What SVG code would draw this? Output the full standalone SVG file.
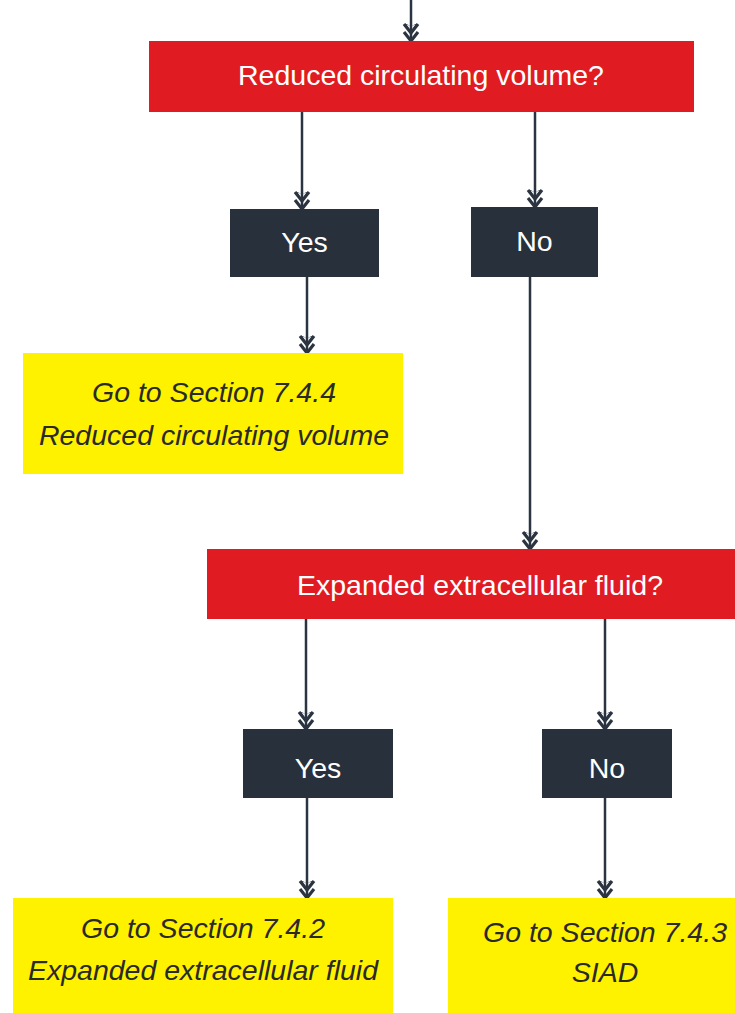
<svg xmlns="http://www.w3.org/2000/svg" width="735" height="1013" viewBox="0 0 735 1013">
  <style>
    .q { fill: #e11b22; }
    .a { fill: #28303c; }
    .g { fill: #fff200; }
    .qt, .at { font-family: "Liberation Sans", Arial, sans-serif; font-size: 28.5px; fill: #ffffff; text-anchor: middle; }
    .gt { font-family: "Liberation Sans", Arial, sans-serif; font-size: 28.5px; font-style: italic; fill: #2a2a2a; text-anchor: middle; }
    .edge { stroke: #2b3440; stroke-width: 2.5; fill: none; marker-end: url(#dbl); }
  </style>
  <defs>
    <!-- double chevron arrowhead, filled barbs -->
    <marker id="dbl" markerUnits="userSpaceOnUse" markerWidth="24" markerHeight="24" refX="0" refY="0" orient="auto" overflow="visible">
      <path d="M-17,-7 L-8,-1 L-17,5 L-15,0 Z M-17,7 L-8,1 L-17,-5 L-15,0 Z" fill="#2b3440"/>
      <path d="M-17,-7 L-8,0 L-17,7 M-9,-7 L0,0 L-9,7" stroke="#2b3440" stroke-width="3.2" fill="none"/>
    </marker>
  </defs>
  <rect width="735" height="1013" fill="#ffffff"/>

  <g id="connectors">
    <line class="edge" x1="411" y1="0" x2="411" y2="41"/>
    <line class="edge" x1="302" y1="112" x2="302" y2="209"/>
    <line class="edge" x1="535" y1="112" x2="535" y2="207"/>
    <line class="edge" x1="307" y1="277" x2="307" y2="353"/>
    <line class="edge" x1="530" y1="277" x2="530" y2="549"/>
    <line class="edge" x1="306" y1="619" x2="306" y2="729"/>
    <line class="edge" x1="605" y1="619" x2="605" y2="729"/>
    <line class="edge" x1="307" y1="798" x2="307" y2="898"/>
    <line class="edge" x1="605" y1="798" x2="605" y2="898"/>
  </g>

  <g id="q1">
    <rect class="q" x="149" y="41" width="545" height="71"/>
    <text class="qt" x="421" y="85">Reduced circulating volume?</text>
  </g>
  <g id="yes1">
    <rect class="a" x="230" y="209" width="149" height="68"/>
    <text class="at" x="304.5" y="252">Yes</text>
  </g>
  <g id="no1">
    <rect class="a" x="471" y="207" width="127" height="70"/>
    <text class="at" x="534.5" y="251">No</text>
  </g>
  <g id="goto744">
    <rect class="g" x="23" y="353" width="380" height="121"/>
    <text class="gt" x="214" y="402">Go to Section 7.4.4</text>
    <text class="gt" x="214" y="445">Reduced circulating volume</text>
  </g>
  <g id="q2">
    <rect class="q" x="207" y="549" width="546" height="70"/>
    <text class="qt" x="480" y="595">Expanded extracellular fluid?</text>
  </g>
  <g id="yes2">
    <rect class="a" x="243" y="729" width="150" height="69"/>
    <text class="at" x="318" y="778">Yes</text>
  </g>
  <g id="no2">
    <rect class="a" x="542" y="729" width="130" height="69"/>
    <text class="at" x="607" y="778">No</text>
  </g>
  <g id="goto742">
    <rect class="g" x="13" y="898" width="380" height="120"/>
    <text class="gt" x="203" y="938">Go to Section 7.4.2</text>
    <text class="gt" x="203" y="980">Expanded extracellular fluid</text>
  </g>
  <g id="goto743">
    <rect class="g" x="448" y="898" width="314" height="120"/>
    <text class="gt" x="605" y="942">Go to Section 7.4.3</text>
    <text class="gt" x="605" y="982">SIAD</text>
  </g>
</svg>
